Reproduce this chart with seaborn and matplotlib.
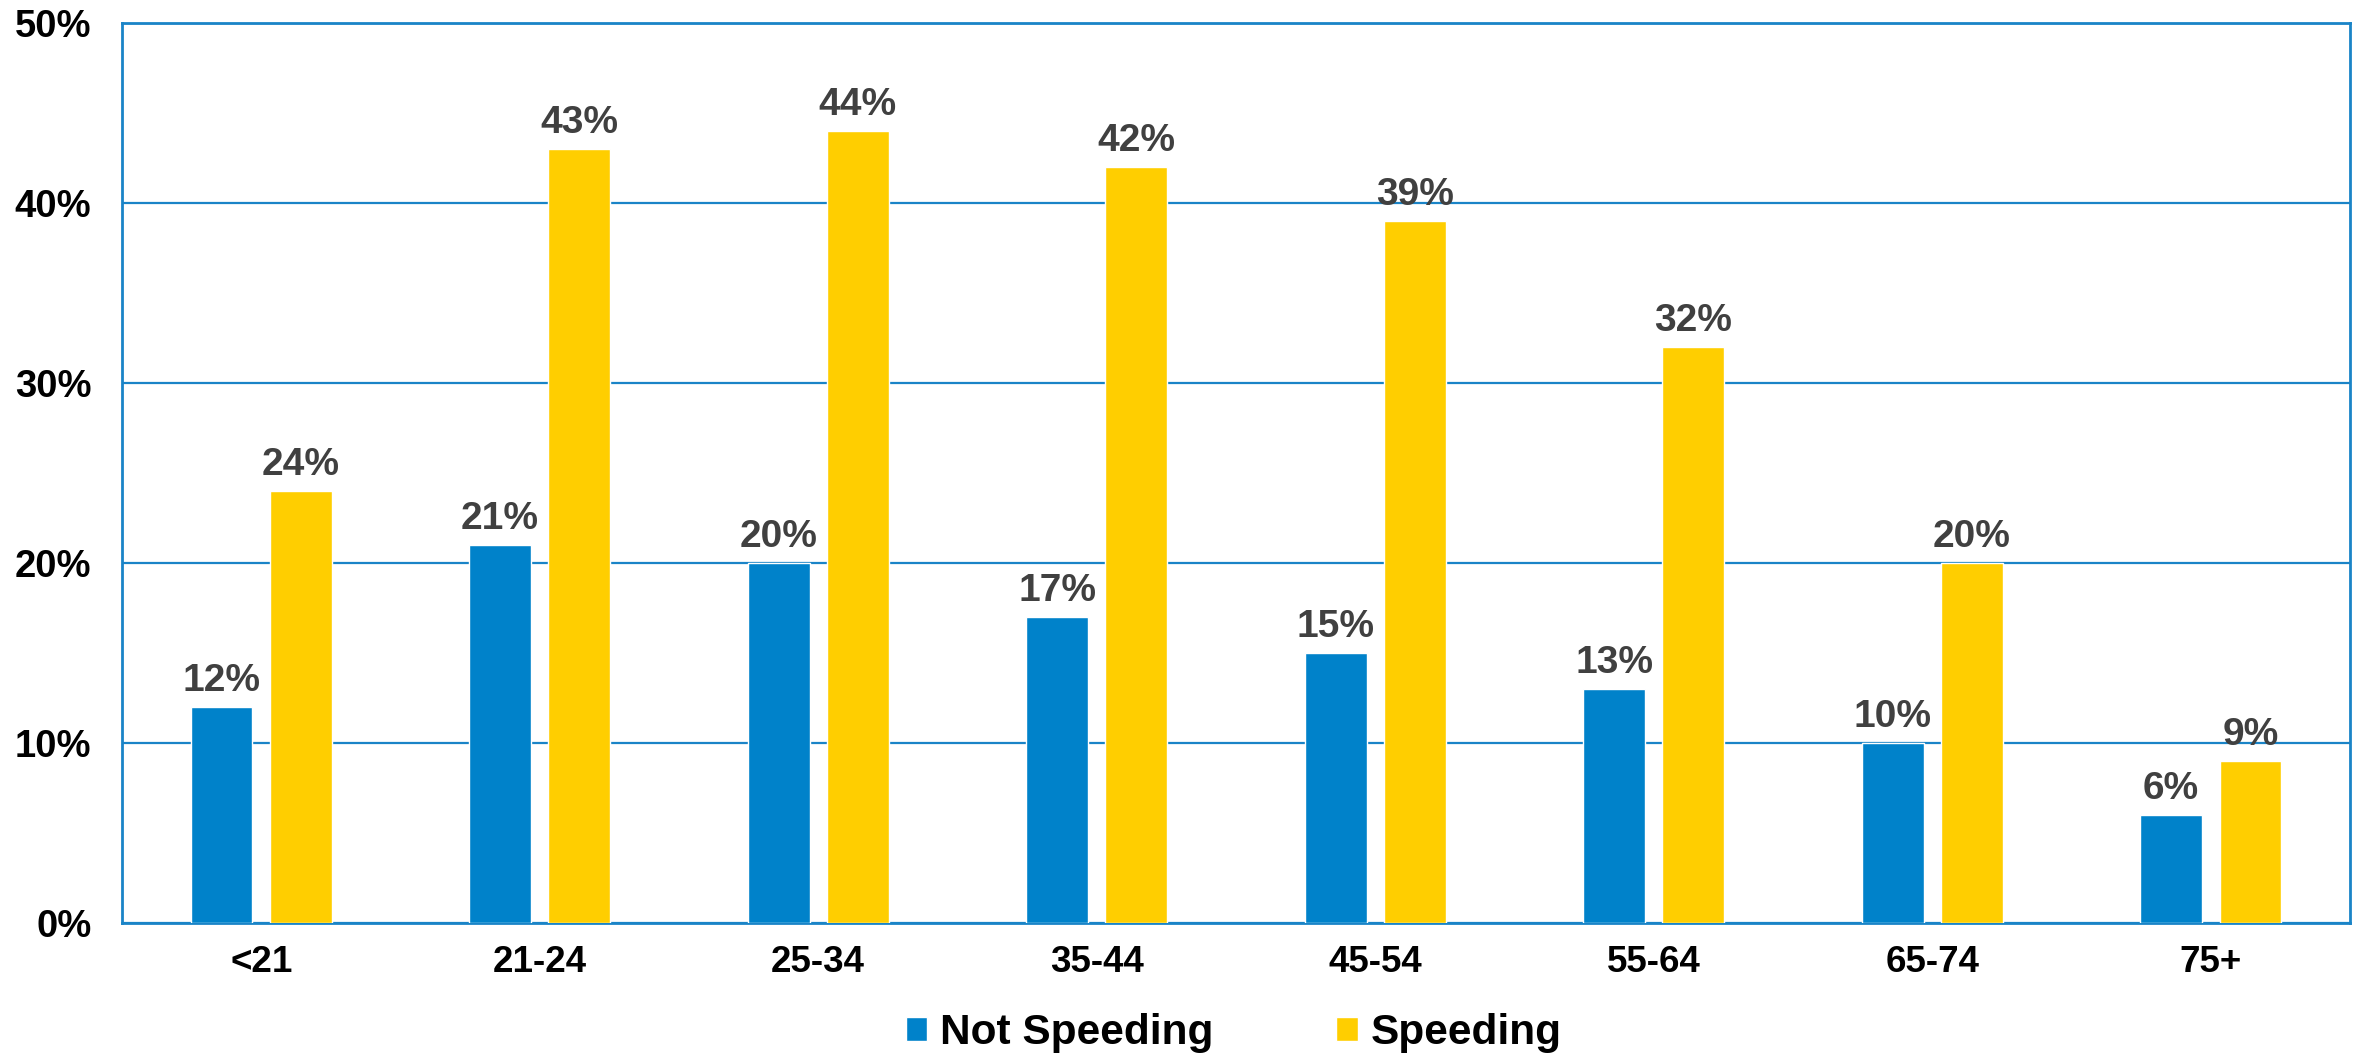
import matplotlib
matplotlib.use("Agg")
import matplotlib.pyplot as plt
import seaborn as sns
import pandas as pd
from matplotlib.ticker import FuncFormatter

# Share of drivers involved, by age group and speeding status (%)
age_groups = ["<21", "21-24", "25-34", "35-44", "45-54", "55-64", "65-74", "75+"]
not_speeding = [12, 21, 20, 17, 15, 13, 10, 6]
speeding = [24, 43, 44, 42, 39, 32, 20, 9]
series_names = ["Not Speeding", "Speeding"]
y_ticks = [0, 10, 20, 30, 40, 50]

BLUE = "#0082CA"
YELLOW = "#FFCE00"
FRAME = "#1A84C7"
LABEL_GRAY = "#404040"

df = pd.DataFrame({
    "age": age_groups * 2,
    "pct": not_speeding + speeding,
    "status": [series_names[0]] * len(age_groups) + [series_names[1]] * len(age_groups),
})

sns.set_theme(style="white")
plt.rcParams["font.family"] = ["Liberation Sans", "DejaVu Sans"]
plt.rcParams["font.weight"] = "bold"

fig = plt.figure(figsize=(23.59, 10.55), dpi=100)
ax = fig.add_axes([0.0517, 0.1251, 0.9445, 0.8531])

sns.barplot(
    data=df, x="age", y="pct", hue="status", order=age_groups,
    hue_order=series_names, palette=[BLUE, YELLOW],
    width=0.57, gap=0.22, saturation=1, errorbar=None, ax=ax, zorder=3,
)

for container in ax.containers:
    ax.bar_label(container, labels=[f"{v:.0f}%" for v in container.datavalues],
                 padding=6, fontsize=28, fontweight="bold", color=LABEL_GRAY)

ax.set_ylim(0, 50)
ax.set_xlim(-0.5, len(age_groups) - 0.5)
ax.set_yticks(y_ticks)
ax.yaxis.set_major_formatter(FuncFormatter(lambda v, p: f"{v:.0f}%"))
ax.grid(axis="y", color=FRAME, linewidth=1.6, zorder=1)
ax.grid(axis="x", visible=False)
ax.set_axisbelow(True)
for s in ax.spines.values():
    s.set_color(FRAME)
    s.set_linewidth(2.0)
    s.set_visible(True)

ax.tick_params(axis="x", length=0, pad=16, labelsize=26.5, labelcolor="black")
ax.tick_params(axis="y", length=0, pad=22, labelsize=27.5, labelcolor="black")
for lab in ax.get_xticklabels() + ax.get_yticklabels():
    lab.set_fontweight("bold")
ax.set_xlabel("")
ax.set_ylabel("")

handles, labels = ax.get_legend_handles_labels()
ax.legend_.remove()
fig.legend(handles, labels, loc="center", bbox_to_anchor=(0.523, 0.021),
           ncol=2, frameon=False, handlelength=0.5, handleheight=0.5,
           handletextpad=0.3, columnspacing=2.9, labelcolor="black",
           prop={"weight": "bold", "size": 30.5})

fig.savefig("out.png", dpi=100)
